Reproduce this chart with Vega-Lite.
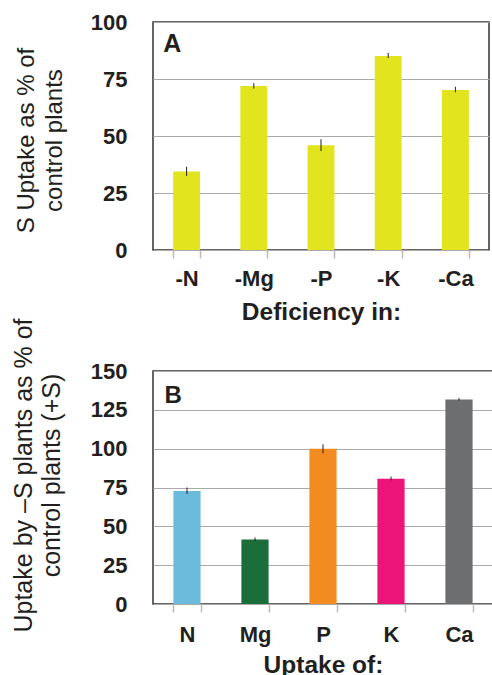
{
  "$schema": "https://vega.github.io/schema/vega-lite/v6.json",
  "background": "white",
  "padding": {"left": 10, "top": 10, "right": 0, "bottom": 0},
  "spacing": -8,
  "columns": 1,
  "config": {
    "font": "Liberation Sans",
    "view": {"stroke": "#333333", "strokeWidth": 1.5},
    "axis": {
      "labelFont": "Liberation Sans",
      "titleFont": "Liberation Sans",
      "labelColor": "#231f20",
      "titleColor": "#231f20",
      "labelFontSize": 22,
      "labelFontWeight": "bold",
      "labelOverlap": false,
      "titleFontSize": 24.5,
      "titleFontWeight": "bold"
    },
    "axisX": {
      "labelAngle": 0,
      "domain": false,
      "tickBand": "extent",
      "tickColor": "#bbbbbb",
      "tickSize": 8,
      "tickWidth": 1.5,
      "labelPadding": 10,
      "titlePadding": 11,
      "grid": false
    },
    "axisY": {
      "domain": false,
      "ticks": false,
      "grid": true,
      "gridColor": "#aaaaaa",
      "gridWidth": 1,
      "labelPadding": 26,
      "labelOverlap": false,
      "titleFontWeight": "normal",
      "titleFontSize": 24,
      "titleLineHeight": 28
    },
    "text": {"font": "Liberation Sans"}
  },
  "concat": [
    {
      "width": 336,
      "height": 228,
      "data": {"values": [
        {"cat": "-N", "value": 34.4, "lo": 32.5, "hi": 36.5},
        {"cat": "-Mg", "value": 71.9, "lo": 70.8, "hi": 73.2},
        {"cat": "-P", "value": 45.9, "lo": 43.4, "hi": 48.6},
        {"cat": "-K", "value": 85.1, "lo": 84.2, "hi": 86.4},
        {"cat": "-Ca", "value": 70.2, "lo": 69.2, "hi": 71.6}
      ]},
      "encoding": {
        "x": {"field": "cat", "type": "nominal", "sort": null,
              "scale": {"paddingInner": 0.6, "paddingOuter": 0.3},
              "axis": {"title": "Deficiency in:"}}
      },
      "layer": [
        {
          "mark": {"type": "bar", "color": "#e2e41e"},
          "encoding": {
            "y": {"field": "value", "type": "quantitative",
                  "scale": {"domain": [0, 100], "nice": false, "zero": true},
                  "axis": {"values": [0, 25, 50, 75, 100], "titlePadding": 24, "titleY": 118,
                           "title": ["S Uptake as % of", "control plants"]}}
          }
        },
        {
          "mark": {"type": "rule", "color": "#231f20", "strokeWidth": 1},
          "encoding": {
            "y": {"field": "lo", "type": "quantitative",
                  "scale": {"domain": [0, 100], "nice": false, "zero": true},
                  "axis": {"values": [0, 25, 50, 75, 100], "titlePadding": 24, "titleY": 118,
                           "title": ["S Uptake as % of", "control plants"]}},
            "y2": {"field": "hi"}
          }
        },
        {
          "data": {"values": [{"cat": "-N", "value": 87, "label": "A"}]},
          "mark": {"type": "text", "align": "left", "baseline": "alphabetic", "dx": -10,
                   "fontSize": 25, "fontWeight": "bold", "color": "#231f20"},
          "encoding": {
            "x": {"field": "cat", "type": "nominal", "bandPosition": 0},
            "y": {"field": "value", "type": "quantitative",
                  "scale": {"domain": [0, 100], "nice": false, "zero": true},
                  "axis": {"values": [0, 25, 50, 75, 100], "titlePadding": 24, "titleY": 118,
                           "title": ["S Uptake as % of", "control plants"]}},
            "text": {"field": "label"}
          }
        }
      ]
    },
    {
      "width": 340,
      "height": 233,
      "data": {"values": [
        {"cat": "N", "value": 72.8, "lo": 70.8, "hi": 75.0},
        {"cat": "Mg", "value": 41.5, "lo": 40.5, "hi": 42.8},
        {"cat": "P", "value": 99.9, "lo": 97.0, "hi": 102.8},
        {"cat": "K", "value": 80.6, "lo": 79.6, "hi": 82.0},
        {"cat": "Ca", "value": 131.7, "lo": 131.0, "hi": 132.6}
      ]},
      "encoding": {
        "x": {"field": "cat", "type": "nominal", "sort": null,
              "scale": {"paddingInner": 0.6, "paddingOuter": 0.3},
              "axis": {"title": "Uptake of:", "titlePadding": 8, "labelPadding": 12}}
      },
      "layer": [
        {
          "mark": {"type": "bar"},
          "encoding": {
            "y": {"field": "value", "type": "quantitative",
                  "scale": {"domain": [0, 150], "nice": false, "zero": true},
                  "axis": {"values": [0, 25, 50, 75, 100, 125, 150], "titlePadding": 26, "titleY": 104, "titleFontSize": 25,
                           "title": ["Uptake by \u2013S plants as % of", "control plants (+S)"]}},
            "color": {"field": "cat", "type": "nominal", "sort": null, "legend": null,
                      "scale": {"domain": ["N", "Mg", "P", "K", "Ca"],
                                "range": ["#6bbcdc", "#1b6e3a", "#f28c20", "#ec1478", "#6d6e70"]}}
          }
        },
        {
          "mark": {"type": "rule", "color": "#231f20", "strokeWidth": 1},
          "encoding": {
            "y": {"field": "lo", "type": "quantitative",
                  "scale": {"domain": [0, 150], "nice": false, "zero": true},
                  "axis": {"values": [0, 25, 50, 75, 100, 125, 150], "titlePadding": 26, "titleY": 104, "titleFontSize": 25,
                           "title": ["Uptake by \u2013S plants as % of", "control plants (+S)"]}},
            "y2": {"field": "hi"}
          }
        },
        {
          "data": {"values": [{"cat": "N", "value": 129.6, "label": "B"}]},
          "mark": {"type": "text", "align": "left", "baseline": "alphabetic", "dx": -9,
                   "fontSize": 24, "fontWeight": "bold", "color": "#231f20"},
          "encoding": {
            "x": {"field": "cat", "type": "nominal", "bandPosition": 0},
            "y": {"field": "value", "type": "quantitative",
                  "scale": {"domain": [0, 150], "nice": false, "zero": true},
                  "axis": {"values": [0, 25, 50, 75, 100, 125, 150], "titlePadding": 26, "titleY": 104, "titleFontSize": 25,
                           "title": ["Uptake by \u2013S plants as % of", "control plants (+S)"]}},
            "text": {"field": "label"}
          }
        }
      ]
    }
  ]
}
